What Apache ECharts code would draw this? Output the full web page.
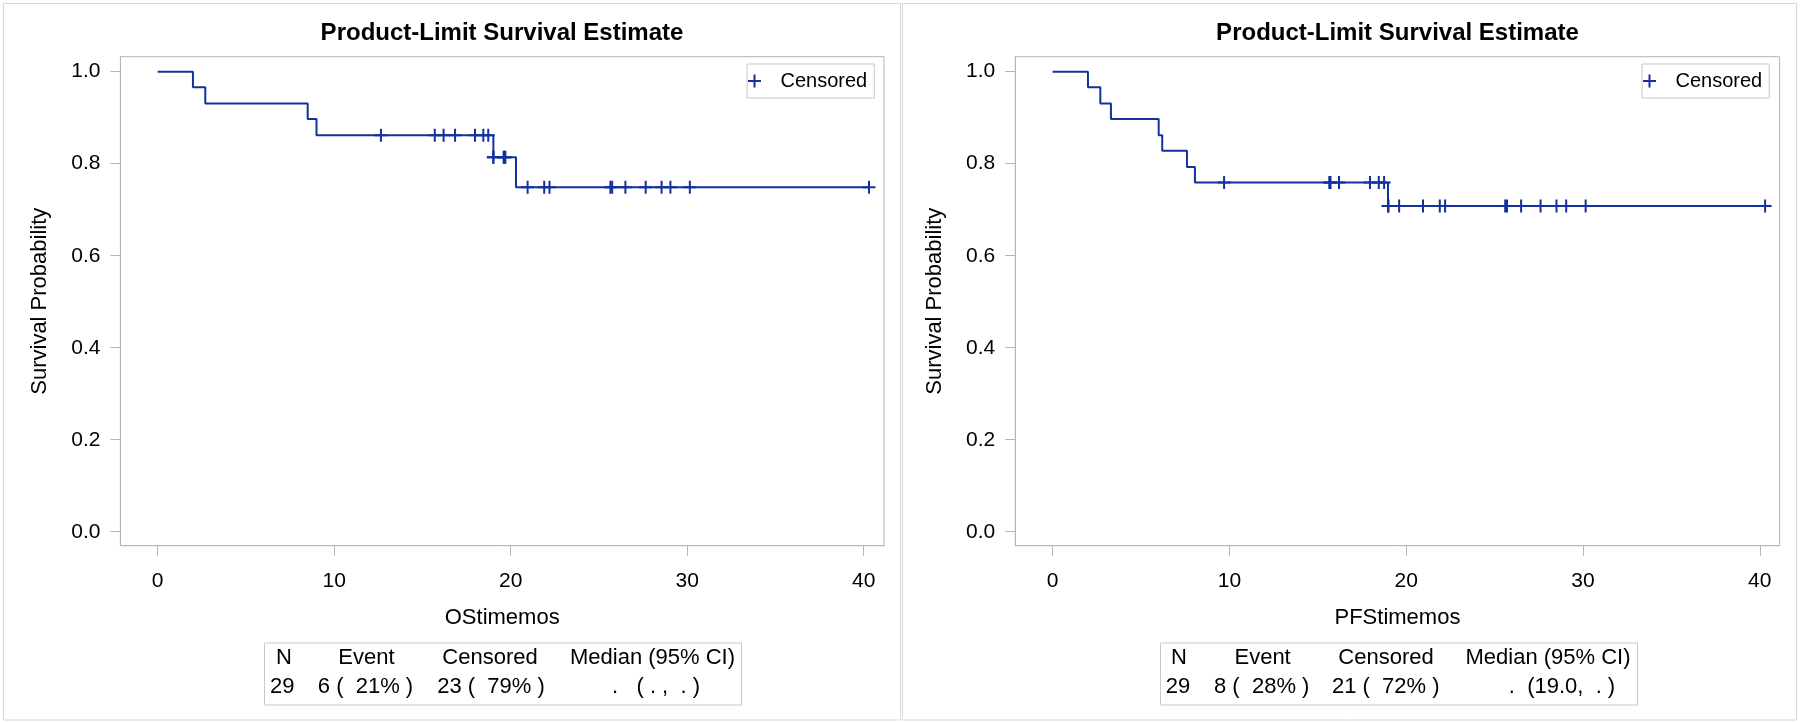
<!DOCTYPE html>
<html>
<head>
<meta charset="utf-8">
<script src="https://cdn.jsdelivr.net/npm/echarts@6/dist/echarts.min.js"></script>
<style>
html,body{margin:0;padding:0;background:#fff;}
#chart{width:1800px;height:723px;}
</style>
</head>
<body>
<div id="chart"></div>
<script>
// ---- data ----
const xTicks = [0, 10, 20, 30, 40];
const yTicks = [0, 0.2, 0.4, 0.6, 0.8, 1.0];

const osStepTime = [0, 2.0, 2.7, 8.5, 9.0, 19.02, 20.3, 40.3];
const osStepSurv = [1.0, 0.966, 0.931, 0.897, 0.862, 0.814, 0.749, 0.749];
const osCensorTime = [12.65, 15.7, 16.2, 16.85, 17.98, 18.45, 18.73,
                      19.02, 19.02, 19.6, 19.65, 19.7,
                      20.96, 21.9, 22.2, 25.65, 25.75, 26.5, 27.65, 28.55, 29.05, 30.15, 40.3];
const osCensorSurv = [0.862, 0.862, 0.862, 0.862, 0.862, 0.862, 0.862,
                      0.814, 0.814, 0.814, 0.814, 0.814,
                      0.749, 0.749, 0.749, 0.749, 0.749, 0.749, 0.749, 0.749, 0.749, 0.749, 0.749];

const pfsStepTime = [0, 2.0, 2.7, 3.3, 6.0, 6.2, 7.6, 8.05, 18.97, 40.3];
const pfsStepSurv = [1.0, 0.966, 0.931, 0.897, 0.862, 0.828, 0.793, 0.759, 0.708, 0.708];
const pfsCensorTime = [9.7, 15.65, 15.72, 16.2, 17.95, 18.45, 18.75,
                       18.97, 19.0, 19.6, 20.95, 21.9, 22.2, 25.6, 25.7, 26.5, 27.6, 28.5, 29.05, 30.15, 40.3];
const pfsCensorSurv = [0.759, 0.759, 0.759, 0.759, 0.759, 0.759, 0.759,
                       0.708, 0.708, 0.708, 0.708, 0.708, 0.708, 0.708, 0.708, 0.708, 0.708, 0.708, 0.708, 0.708, 0.708];

const titles = ['Product-Limit Survival Estimate', 'Product-Limit Survival Estimate'];
const xNames = ['OStimemos', 'PFStimemos'];
const yName = 'Survival Probability';
const tableHeader = ['N', 'Event', 'Censored', 'Median (95% CI)'];
const osTableRow = ['29', '6 (  21% )', '23 (  79% )', '.   ( . ,  . )'];
const pfsTableRow = ['29', '8 (  28% )', '21 (  72% )', '.  (19.0,  . )'];

// ---- styling / layout ----
const FONT = "'Liberation Sans', Arial, Helvetica, sans-serif";
const BLUE = '#12309e';
const GRAY = '#b4b4b4';
const PLUS = 'path://M6,0L6,12M0,6L12,6';

function zip(a, b) { return a.map((v, i) => [v, b[i]]); }

const grids = [
  {left: 120.4, top: 56.7, width: 763.6, height: 489, show: true, borderColor: GRAY, borderWidth: 1, backgroundColor: '#fff'},
  {left: 1015.3, top: 56.7, width: 764.3, height: 489, show: true, borderColor: GRAY, borderWidth: 1, backgroundColor: '#fff'}
];

function xAxis(i, name) {
  return {
    gridIndex: i, type: 'value', min: -2.11, max: i === 0 ? 41.15 : 41.12,
    axisLine: {show: true, onZero: false, lineStyle: {color: GRAY, width: 1}},
    axisTick: {show: true, length: 10, customValues: xTicks, lineStyle: {color: GRAY, width: 1}},
    axisLabel: {customValues: xTicks, margin: 25, fontSize: 21, color: '#000', fontFamily: FONT},
    splitLine: {show: false},
    name: name, nameLocation: 'middle', nameGap: 61,
    nameTextStyle: {fontSize: 22, color: '#000', fontFamily: FONT}
  };
}
function yAxis(i) {
  return {
    gridIndex: i, type: 'value', min: -0.0304, max: 1.0326,
    axisLine: {show: true, onZero: false, lineStyle: {color: GRAY, width: 1}},
    axisTick: {show: true, length: 10, customValues: yTicks, lineStyle: {color: GRAY, width: 1}},
    axisLabel: {customValues: yTicks, margin: 20, fontSize: 21, color: '#000', fontFamily: FONT,
                formatter: v => v.toFixed(1)},
    splitLine: {show: false},
    name: yName, nameLocation: 'middle', nameGap: 69, nameRotate: 90,
    nameTextStyle: {fontSize: 22, color: '#000', fontFamily: FONT}
  };
}

function stepSeries(i, t, s) {
  return {
    type: 'line', xAxisIndex: i, yAxisIndex: i, step: 'end', data: zip(t, s),
    showSymbol: false, symbol: 'none', silent: true, animation: false,
    lineStyle: {color: BLUE, width: 2}, itemStyle: {color: BLUE}, z: 3
  };
}
function censorSeries(i, t, s) {
  return {
    name: 'Censored', type: 'scatter', xAxisIndex: i, yAxisIndex: i, data: zip(t, s),
    symbol: PLUS, symbolSize: 13, silent: true, animation: false,
    itemStyle: {color: 'rgba(0,0,0,0)', borderColor: BLUE, borderWidth: 2, opacity: 1}, z: 4
  };
}

function legend(left) {
  return {
    left: left, top: 64, orient: 'horizontal',
    padding: [7, 7, 7, 0], borderColor: '#c8c8c8', borderWidth: 1, backgroundColor: '#fff',
    itemWidth: 20, itemHeight: 13, symbolKeepAspect: true, selectedMode: false,
    textStyle: {fontSize: 20, color: '#000', fontFamily: FONT, padding: [0, 0, 0, 11]},
    data: [{name: 'Censored', icon: PLUS,
            itemStyle: {color: 'rgba(0,0,0,0)', borderColor: BLUE, borderWidth: 2}}]
  };
}

// table graphics
const colHdrL = [284, 366.5, 490, 652.5];
const colValL = [282.3, 365.5, 491, 656];
const colHdrR = [1179, 1262.6, 1386, 1548];
const colValR = [1178, 1261.7, 1385.7, 1562];
function tableGraphics(boxX, boxW, hdrX, valX, row) {
  const g = [{type: 'rect', shape: {x: boxX, y: 643, width: boxW, height: 62},
              style: {fill: '#fff', stroke: '#c8c8c8', lineWidth: 1}, silent: true}];
  tableHeader.forEach((h, k) => g.push({type: 'text', silent: true,
    style: {text: h, x: hdrX[k], y: 658, textAlign: 'center', textVerticalAlign: 'middle',
            font: '22px ' + FONT, fill: '#000'}}));
  row.forEach((h, k) => g.push({type: 'text', silent: true,
    style: {text: h, x: valX[k], y: 687, textAlign: 'center', textVerticalAlign: 'middle',
            font: '22px ' + FONT, fill: '#000'}}));
  return g;
}

const graphic = [
  {type: 'rect', shape: {x: 3.5, y: 3.5, width: 897, height: 716.5}, style: {fill: 'none', stroke: '#d8d8d8', lineWidth: 1}, silent: true, z: -10},
  {type: 'rect', shape: {x: 902.5, y: 3.5, width: 894, height: 716.5}, style: {fill: 'none', stroke: '#d8d8d8', lineWidth: 1}, silent: true, z: -10}
].concat(tableGraphics(264.5, 477, colHdrL, colValL, osTableRow))
 .concat(tableGraphics(1160.5, 477, colHdrR, colValR, pfsTableRow));

const option = {
  backgroundColor: '#fff',
  animation: false,
  title: [
    {text: titles[0], left: 502, top: 21, textAlign: 'center', padding: 0,
     textStyle: {fontSize: 24, fontWeight: 'bold', color: '#000', fontFamily: FONT}},
    {text: titles[1], left: 1397.5, top: 21, textAlign: 'center', padding: 0,
     textStyle: {fontSize: 24, fontWeight: 'bold', color: '#000', fontFamily: FONT}}
  ],
  grid: grids,
  xAxis: [xAxis(0, xNames[0]), xAxis(1, xNames[1])],
  yAxis: [yAxis(0), yAxis(1)],
  legend: [legend(747), legend(1642)],
  series: [
    stepSeries(0, osStepTime, osStepSurv),
    censorSeries(0, osCensorTime, osCensorSurv),
    stepSeries(1, pfsStepTime, pfsStepSurv),
    censorSeries(1, pfsCensorTime, pfsCensorSurv)
  ],
  graphic: graphic
};

const chart = echarts.init(document.getElementById('chart'), null, {renderer: 'canvas'});
chart.setOption(option);
</script>
</body>
</html>
